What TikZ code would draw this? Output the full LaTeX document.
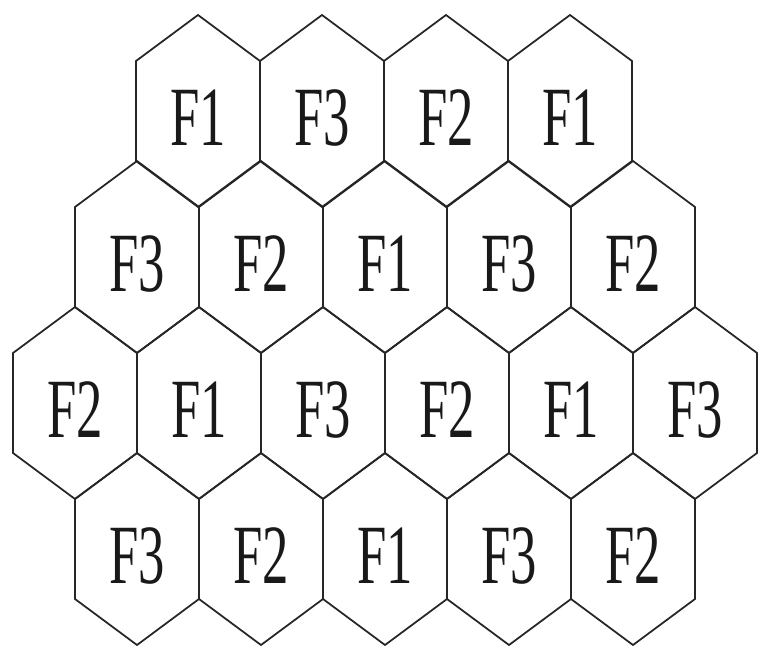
\documentclass[tikz,border=0pt]{standalone}
\usepackage{fontspec}
\setmainfont{Liberation Serif}
\usetikzlibrary{positioning}
\tikzset{
  cell/.style={draw=black!85, line width=1pt, line join=miter},
  freq/.style={font=\fontsize{30}{31}\selectfont, inner sep=0pt, text=black!90}
}
% one hexagonal cell: centre x, centre y, node name, label
\newcommand{\hexcell}[4]{%
  \draw[cell] (#1,#2-96) -- (#1+62,#2-50) -- (#1+62,#2+50) -- (#1,#2+96)
    -- (#1-62,#2+50) -- (#1-62,#2-50) -- cycle;
  \node[freq] (#3) at (#1,#2+7) {\scalebox{1}[1.6]{#4}};
}
\begin{document}
\begin{tikzpicture}[x=0.02cm, y=-0.02cm]
\useasboundingbox (0,0) rectangle (761,646);
\foreach \row/\yc/\xs/\labs in {1/111/198/{F1,F3,F2,F1},
                               2/257/137/{F3,F2,F1,F3,F2},
                               3/403/75/{F2,F1,F3,F2,F1,F3},
                               4/549/137/{F3,F2,F1,F3,F2}} {
  \foreach \lab [count=\i] in \labs {
    \pgfmathsetmacro\cx{\xs+124*(\i-1)}
    \hexcell{\cx}{\yc}{c\row-\i}{\lab}
  }
}
\end{tikzpicture}
\end{document}
